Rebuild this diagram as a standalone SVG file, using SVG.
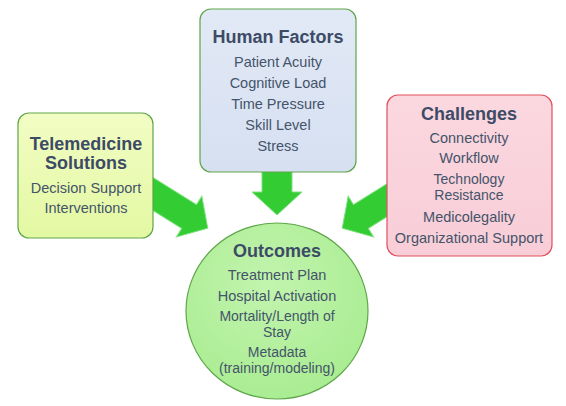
<svg xmlns="http://www.w3.org/2000/svg" width="566" height="406" viewBox="0 0 566 406">
<defs>
<linearGradient id="gTele" x1="0" y1="0" x2="0" y2="1"><stop offset="0" stop-color="#f2fdc4"/><stop offset="1" stop-color="#e3f8a2"/></linearGradient>
<linearGradient id="gHum" x1="0" y1="0" x2="0" y2="1"><stop offset="0" stop-color="#e2e9f6"/><stop offset="1" stop-color="#d6e0f1"/></linearGradient>
<linearGradient id="gCha" x1="0" y1="0" x2="0" y2="1"><stop offset="0" stop-color="#fbd8e0"/><stop offset="1" stop-color="#f8cdd7"/></linearGradient>
<radialGradient id="gOut" cx="0.45" cy="0.35" r="0.7"><stop offset="0" stop-color="#c2f4ae"/><stop offset="1" stop-color="#a8ec90"/></radialGradient>
<style>
.arrow{fill:#33cc33;stroke:#7ee07e;stroke-width:1}
.t{font-family:"Liberation Sans",Arial,sans-serif;fill:#44546a;text-anchor:middle}
.h{font-size:18px;font-weight:bold;fill:#3d4b66}
.b{font-size:14.5px}
.w{font-size:14px}
</style>
</defs>
<g id="connectors">
<polygon class="arrow" points="0,-14 52,-14 52,-24 74,0 52,24 52,14 0,14" transform="translate(145,189) rotate(32)"/>
<polygon class="arrow" points="0,-14 52,-14 52,-24 74,0 52,24 52,14 0,14" transform="translate(405,189) rotate(148)"/>
<polygon class="arrow" points="262,165 292,165 292,192 302,192 277,215 252,192 262,192"/>
</g>
<g id="telemedicine">
<rect x="18" y="113" width="135" height="125" rx="11" fill="url(#gTele)" stroke="#5ea64a" stroke-width="1.2"/>
<text class="t h" x="86" y="150">Telemedicine</text>
<text class="t h" x="86" y="169">Solutions</text>
<text class="t b" x="86" y="193">Decision Support</text>
<text class="t b" x="86" y="213">Interventions</text>
</g>
<g id="human-factors">
<rect x="200" y="9" width="156" height="163" rx="11" fill="url(#gHum)" stroke="#5ea64a" stroke-width="1.2"/>
<text class="t h" x="278" y="43">Human Factors</text>
<text class="t b" x="278" y="67">Patient Acuity</text>
<text class="t b" x="278" y="88">Cognitive Load</text>
<text class="t b" x="278" y="109">Time Pressure</text>
<text class="t b" x="278" y="130">Skill Level</text>
<text class="t b" x="278" y="151">Stress</text>
</g>
<g id="challenges">
<rect x="387" y="95" width="165" height="161" rx="11" fill="url(#gCha)" stroke="#e0505e" stroke-width="1.2"/>
<text class="t h" x="469" y="120">Challenges</text>
<text class="t b" x="469" y="143">Connectivity</text>
<text class="t b" x="469" y="163">Workflow</text>
<text class="t w" x="469" y="184">Technology</text>
<text class="t w" x="469" y="200">Resistance</text>
<text class="t b" x="469" y="222">Medicolegality</text>
<text class="t b" x="469" y="243">Organizational Support</text>
</g>
<g id="outcomes">
<ellipse cx="277" cy="311" rx="91" ry="88" fill="url(#gOut)" stroke="#5ea64a" stroke-width="1.2"/>
<text class="t h" x="277" y="257">Outcomes</text>
<text class="t b" x="277" y="280">Treatment Plan</text>
<text class="t b" x="277" y="301">Hospital Activation</text>
<text class="t w" x="277" y="321">Mortality/Length of</text>
<text class="t w" x="277" y="337">Stay</text>
<text class="t w" x="277" y="357">Metadata</text>
<text class="t w" x="277" y="373">(training/modeling)</text>
</g>
</svg>
